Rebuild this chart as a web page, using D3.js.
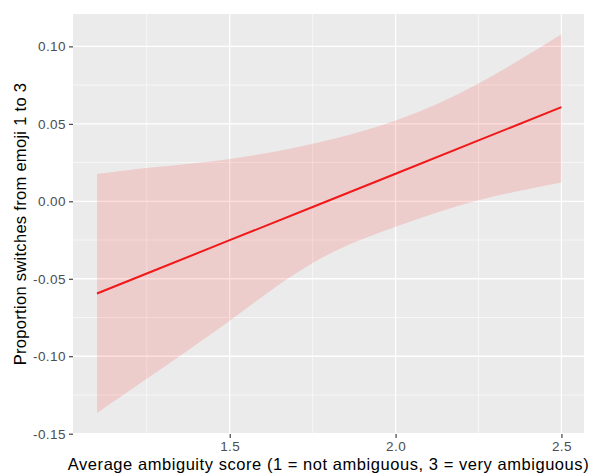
<!DOCTYPE html>
<html>
<head>
<meta charset="utf-8">
<script src="https://cdn.jsdelivr.net/npm/d3@7"></script>
<style>
  html, body { margin: 0; padding: 0; background: #ffffff; }
  svg { display: block; font-family: "Liberation Sans", Arial, Helvetica, sans-serif; }
</style>
</head>
<body>
<svg id="chart" width="590" height="476"></svg>
<script>
// Linear fit of switch proportion on ambiguity score, with its confidence band
const scoreX   = [1.1, 1.25, 1.5, 1.75, 2.0, 2.25, 2.5];
const fitY     = [-0.0595, -0.0466, -0.0251, -0.0037, 0.0178, 0.0393, 0.0608];
const upperY   = [0.0176, 0.0215, 0.0273, 0.0371, 0.0521, 0.0761, 0.1078];
const lowerY   = [-0.1367, -0.1146, -0.0771, -0.0398, -0.0165, 0.0006, 0.0122];

const xTicks = [1.5, 2.0, 2.5];
const xMinor = [1.25, 1.75, 2.25];
const yTicks = [0.10, 0.05, 0.00, -0.05, -0.10, -0.15];
const yMinor = [0.075, 0.025, -0.025, -0.075, -0.125];

const xTitle = "Average ambiguity score (1 = not ambiguous, 3 = very ambiguous)";
const yTitle = "Proportion switches from emoji 1 to 3";

const panel = { left: 73, right: 584, top: 14, bottom: 434 };

const svg = d3.select("#chart");

const x = d3.scaleLinear().domain([1.0276, 2.568]).range([panel.left, panel.right]);
const y = d3.scaleLinear().domain([-0.1502, 0.1209]).range([panel.bottom, panel.top]);

// panel background
svg.append("rect")
  .attr("x", panel.left).attr("y", panel.top)
  .attr("width", panel.right - panel.left)
  .attr("height", panel.bottom - panel.top)
  .attr("fill", "#EBEBEB");

const grid = svg.append("g");
// minor grid
grid.selectAll(".vminor").data(xMinor).join("line")
  .attr("x1", d => x(d)).attr("x2", d => x(d))
  .attr("y1", panel.top).attr("y2", panel.bottom)
  .attr("stroke", "#ffffff").attr("stroke-width", 0.6);
grid.selectAll(".hminor").data(yMinor).join("line")
  .attr("y1", d => y(d)).attr("y2", d => y(d))
  .attr("x1", panel.left).attr("x2", panel.right)
  .attr("stroke", "#ffffff").attr("stroke-width", 0.6);
// major grid
grid.selectAll(".vmajor").data(xTicks).join("line")
  .attr("x1", d => x(d)).attr("x2", d => x(d))
  .attr("y1", panel.top).attr("y2", panel.bottom)
  .attr("stroke", "#ffffff").attr("stroke-width", 1.3);
grid.selectAll(".hmajor").data(yTicks).join("line")
  .attr("y1", d => y(d)).attr("y2", d => y(d))
  .attr("x1", panel.left).attr("x2", panel.right)
  .attr("stroke", "#ffffff").attr("stroke-width", 1.3);

// confidence band
const band = scoreX.map((v, i) => ({ x: v, lo: lowerY[i], hi: upperY[i] }));
svg.append("path")
  .datum(band)
  .attr("d", d3.area()
    .x(d => x(d.x)).y0(d => y(d.lo)).y1(d => y(d.hi))
    .curve(d3.curveNatural))
  .attr("fill", "#ff0000")
  .attr("fill-opacity", 0.13);

// fitted line
const fit = scoreX.map((v, i) => ({ x: v, y: fitY[i] }));
svg.append("path")
  .datum(fit)
  .attr("d", d3.line().x(d => x(d.x)).y(d => y(d.y)))
  .attr("fill", "none")
  .attr("stroke", "#F01818")
  .attr("stroke-width", 2);

// axes
const fmt = d3.format(".2f");
const yAxis = svg.append("g")
  .attr("transform", `translate(${panel.left},0)`)
  .call(d3.axisLeft(y).tickValues(yTicks).tickFormat(d => fmt(d).replace("−", "-")).tickSize(4).tickPadding(3));
const xAxis = svg.append("g")
  .attr("transform", `translate(0,${panel.bottom})`)
  .call(d3.axisBottom(x).tickValues(xTicks).tickFormat(d3.format(".1f")).tickSize(4).tickPadding(3));

[yAxis, xAxis].forEach(a => {
  a.select(".domain").remove();
  a.selectAll(".tick line").attr("stroke", "#333333").attr("stroke-width", 1.1);
  a.selectAll(".tick text")
    .attr("fill", "#4D4D4D")
    .style("font-size", "13.5px")
    .style("letter-spacing", "0.45px")
    .style("font-family", "'Liberation Sans', Arial, sans-serif");
});

// axis titles
svg.append("text")
  .attr("x", (panel.left + panel.right) / 2 + 0)
  .attr("y", 470)
  .attr("text-anchor", "middle")
  .attr("fill", "#000000")
  .style("font-size", "16.5px")
  .style("letter-spacing", "0.55px")
  .text(xTitle);

svg.append("text")
  .attr("transform", `translate(26,${(panel.top + panel.bottom) / 2}) rotate(-90)`)
  .attr("text-anchor", "middle")
  .attr("fill", "#000000")
  .style("font-size", "16.5px")
  .style("letter-spacing", "0.3px")
  .text(yTitle);
</script>
</body>
</html>
